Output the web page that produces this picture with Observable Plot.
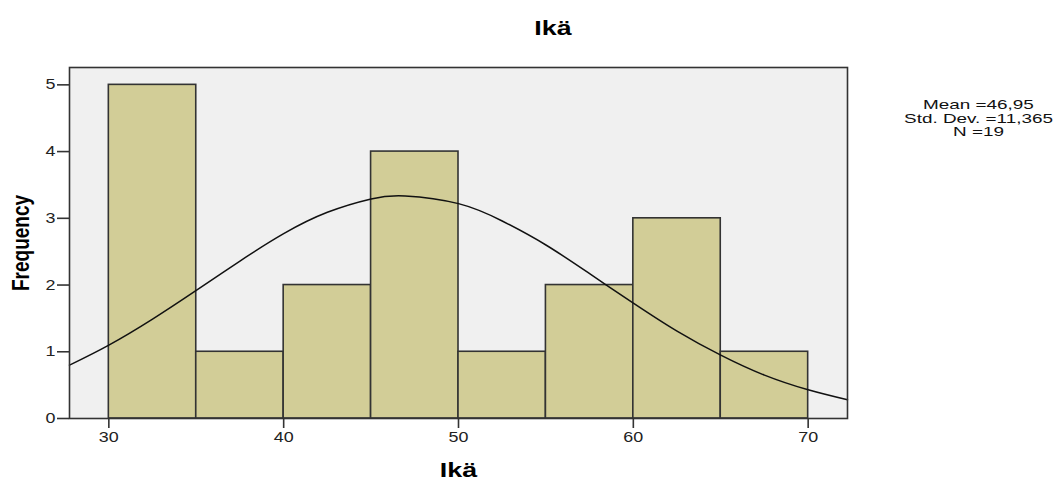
<!DOCTYPE html>
<html><head><meta charset="utf-8">
<script src="https://cdn.jsdelivr.net/npm/d3@7"></script>
<script src="https://cdn.jsdelivr.net/npm/@observablehq/plot@0.6"></script>
<style>body{margin:0;background:#fff;font-family:"Liberation Sans",Arial,sans-serif}</style>
</head><body><div id="chart"></div>
<script>
const binStart = [30, 35, 40, 45, 50, 55, 60, 65];
const binEnd   = [35, 40, 45, 50, 55, 60, 65, 70];
const counts   = [5, 1, 2, 4, 1, 2, 3, 1];
const curveX = [27.75, 30, 32.5, 35, 37.5, 40, 42.5, 45, 46.95, 50, 52.5, 55, 57.5, 60, 62.5, 65, 67.5, 70, 72.25];
const curveY = [0.80, 1.10, 1.49, 1.92, 2.36, 2.77, 3.09, 3.29, 3.335, 3.22, 2.96, 2.60, 2.17, 1.73, 1.31, 0.95, 0.65, 0.43, 0.28];
const xTicks = [30, 40, 50, 60, 70];
const yTicks = [0, 1, 2, 3, 4, 5];
const titleText = "Ikä";
const xLabel = "Ikä";
const yLabel = "Frequency";
const statsText = "Mean =46,95\nStd. Dev. =11,365\nN =19";

const bins = binStart.map((s, i) => ({x1: s, x2: binEnd[i], y: counts[i]}));
const curve = curveX.map((x, i) => ({x, y: curveY[i]}));

const chart = Plot.plot({
  width: 1063,
  height: 481,
  marginLeft: 69,
  marginRight: 216,
  marginTop: 67,
  marginBottom: 63,
  style: {fontFamily: "'Liberation Sans', Arial, sans-serif", background: "#fff", color: "#222"},
  x: {domain: [27.75, 72.25]},
  y: {domain: [0, 5.26]},
  marks: [
    Plot.frame({fill: "#f0f0f0", stroke: "none"}),
    Plot.rect(bins, {x1: "x1", x2: "x2", y1: 0, y2: "y", fill: "#d2cd97", stroke: "#333", strokeWidth: 1.6}),
    Plot.line(curve, {x: "x", y: "y", curve: "natural", stroke: "#111", strokeWidth: 1.5}),
    Plot.frame({stroke: "#333", strokeWidth: 1.6}),
    Plot.axisX({ticks: xTicks, tickFormat: d => String(d), tickSize: 10, tickPadding: 4, fontSize: 14, label: null, stroke: "#333", strokeWidth: 1.6, fill: "#222"}),
    Plot.axisY({ticks: yTicks, tickFormat: d => String(d), tickSize: 12, tickPadding: 2, fontSize: 14, label: null, stroke: "#333", strokeWidth: 1.6, fill: "#222"}),
    Plot.text([titleText], {frameAnchor: "top", dx: 94.5, dy: -39.5, lineAnchor: "middle", textAnchor: "middle", fontWeight: "bold", fontSize: 21, fill: "#000"}),
    Plot.text([xLabel], {frameAnchor: "bottom", dy: 52, lineAnchor: "middle", textAnchor: "middle", fontWeight: "bold", fontSize: 21, fill: "#000"}),
    Plot.text([yLabel], {frameAnchor: "left", dx: -48, rotate: -90, lineAnchor: "middle", textAnchor: "middle", fontWeight: "bold", fontSize: 19, fill: "#000"}),
    Plot.text([statsText], {frameAnchor: "top-right", dx: 131, dy: 32, lineAnchor: "top", textAnchor: "middle", lineHeight: 1.0, fontSize: 13.5, fill: "#111"})
  ]
});
document.getElementById("chart").appendChild(chart);

// The reference image is horizontally stretched: widen the glyphs to match.
chart.querySelectorAll("text").forEach(t => {
  const isStats = t.textContent.includes("Mean");
  const s = isStats ? 1.4 : 1.28;
  const bb = t.getBBox();
  const tr = t.getAttribute("transform") || "";
  let extra;
  if (/rotate/.test(tr)) {
    const cy = bb.y + bb.height / 2;
    extra = `translate(0,${cy}) scale(1,${s}) translate(0,${-cy})`;
  } else {
    const anchor = getComputedStyle(t).textAnchor;
    const cx = anchor === "end" ? bb.x + bb.width : bb.x + bb.width / 2;
    extra = `translate(${cx},0) scale(${s},1) translate(${-cx},0)`;
  }
  t.setAttribute("transform", (tr + " " + extra).trim());
});
</script>
</body></html>
